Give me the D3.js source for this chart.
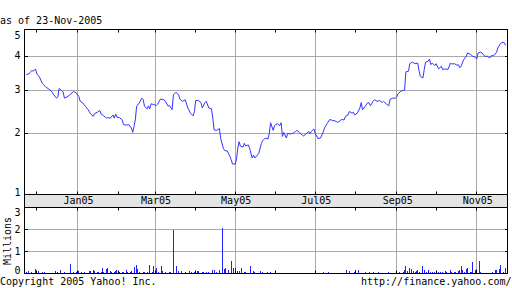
<!DOCTYPE html>
<html>
<head>
<meta charset="utf-8">
<script src="https://cdn.jsdelivr.net/npm/d3@7"></script>
<style>
body{margin:0;background:#fff}
svg text{font-family:"DejaVu Sans Mono",monospace;font-size:10px;fill:#000}
</style>
</head>
<body>
<svg id="chart" width="512" height="288"></svg>
<script>
// closing price
const priceDates = ['2004-11-23','2004-11-25','2004-11-27','2004-11-28','2004-11-30','2004-12-01','2004-12-03','2004-12-05','2004-12-06','2004-12-08',
  '2004-12-10','2004-12-12','2004-12-14','2004-12-16','2004-12-17','2004-12-18','2004-12-19','2004-12-21','2004-12-22','2004-12-24',
  '2004-12-26','2004-12-29','2004-12-31','2005-01-02','2005-01-03','2005-01-05','2005-01-07','2005-01-09','2005-01-11','2005-01-13',
  '2005-01-14','2005-01-16','2005-01-18','2005-01-19','2005-01-21','2005-01-23','2005-01-24','2005-01-26','2005-01-28','2005-01-29',
  '2005-01-30','2005-01-31','2005-02-02','2005-02-04','2005-02-05','2005-02-07','2005-02-09','2005-02-11','2005-02-12','2005-02-13',
  '2005-02-14','2005-02-15','2005-02-17','2005-02-19','2005-02-20','2005-02-21','2005-02-23','2005-02-24','2005-02-25','2005-02-26',
  '2005-02-28','2005-03-02','2005-03-03','2005-03-05','2005-03-07','2005-03-09','2005-03-11','2005-03-12','2005-03-14','2005-03-15',
  '2005-03-17','2005-03-19','2005-03-20','2005-03-22','2005-03-24','2005-03-26','2005-03-28','2005-03-30','2005-03-31','2005-04-01',
  '2005-04-03','2005-04-05','2005-04-06','2005-04-08','2005-04-09','2005-04-11','2005-04-13','2005-04-14','2005-04-15','2005-04-17',
  '2005-04-19','2005-04-20','2005-04-22','2005-04-23','2005-04-25','2005-04-27','2005-04-28','2005-04-29','2005-05-01','2005-05-02',
  '2005-05-03','2005-05-04','2005-05-05','2005-05-07','2005-05-08','2005-05-09','2005-05-11','2005-05-12','2005-05-14','2005-05-15',
  '2005-05-16','2005-05-18','2005-05-19','2005-05-21','2005-05-22','2005-05-24','2005-05-26','2005-05-27','2005-05-28','2005-05-30',
  '2005-05-31','2005-06-02','2005-06-04','2005-06-05','2005-06-06','2005-06-07','2005-06-09','2005-06-10','2005-06-12','2005-06-14',
  '2005-06-16','2005-06-17','2005-06-19','2005-06-21','2005-06-22','2005-06-24','2005-06-26','2005-06-27','2005-06-28','2005-06-30',
  '2005-07-01','2005-07-03','2005-07-05','2005-07-07','2005-07-08','2005-07-10','2005-07-12','2005-07-14','2005-07-16','2005-07-18',
  '2005-07-19','2005-07-21','2005-07-23','2005-07-24','2005-07-26','2005-07-27','2005-07-29','2005-07-30','2005-07-31','2005-08-02',
  '2005-08-04','2005-08-05','2005-08-06','2005-08-08','2005-08-10','2005-08-11','2005-08-12','2005-08-14','2005-08-15','2005-08-17',
  '2005-08-19','2005-08-21','2005-08-22','2005-08-24','2005-08-26','2005-08-27','2005-08-29','2005-08-31','2005-09-01','2005-09-02',
  '2005-09-04','2005-09-06','2005-09-07','2005-09-08','2005-09-10','2005-09-11','2005-09-13','2005-09-15','2005-09-17','2005-09-18',
  '2005-09-19','2005-09-21','2005-09-22','2005-09-23','2005-09-25','2005-09-26','2005-09-27','2005-09-28','2005-09-30','2005-10-01',
  '2005-10-03','2005-10-05','2005-10-06','2005-10-08','2005-10-10','2005-10-12','2005-10-13','2005-10-15','2005-10-17','2005-10-18',
  '2005-10-19','2005-10-20','2005-10-22','2005-10-24','2005-10-25','2005-10-27','2005-10-29','2005-10-31','2005-11-01','2005-11-02',
  '2005-11-04','2005-11-05','2005-11-07','2005-11-09','2005-11-11','2005-11-12','2005-11-14','2005-11-16','2005-11-17','2005-11-19',
  '2005-11-21','2005-11-22','2005-11-23'];
const priceClose = [3.42,3.44,3.54,3.52,3.58,3.44,3.35,3.18,3.14,3.06,
  3.02,2.96,2.86,2.78,2.81,3.03,3.00,2.94,2.78,2.81,
  2.86,2.95,2.91,2.82,2.70,2.66,2.58,2.50,2.40,2.35,
  2.41,2.44,2.48,2.40,2.36,2.31,2.32,2.31,2.38,2.31,
  2.40,2.33,2.32,2.27,2.17,2.16,2.17,2.10,2.01,2.13,
  2.27,2.58,2.66,2.78,2.74,2.58,2.52,2.59,2.52,2.64,
  2.62,2.60,2.63,2.75,2.75,2.70,2.58,2.60,2.50,2.86,
  2.93,2.86,2.75,2.70,2.74,2.54,2.42,2.36,2.46,2.72,
  2.72,2.67,2.54,2.67,2.70,2.54,2.52,2.31,2.06,2.05,
  2.09,1.89,1.71,1.67,1.66,1.57,1.51,1.44,1.44,1.51,
  1.71,1.83,1.75,1.73,1.80,1.75,1.77,1.71,1.54,1.59,
  1.54,1.59,1.62,1.80,1.85,1.90,1.88,1.99,2.21,2.05,
  2.15,2.19,2.15,2.21,1.93,2.01,1.90,1.99,1.98,1.99,
  2.03,2.05,2.01,1.96,1.94,1.98,2.03,1.98,2.03,2.08,
  1.99,1.89,1.90,2.01,2.10,2.19,2.28,2.26,2.25,2.22,
  2.23,2.28,2.27,2.35,2.38,2.46,2.42,2.44,2.38,2.42,
  2.54,2.67,2.50,2.58,2.67,2.66,2.59,2.70,2.74,2.70,
  2.72,2.67,2.70,2.64,2.59,2.75,2.78,2.78,2.81,2.89,
  2.95,2.98,2.98,3.50,3.52,3.75,3.80,3.75,3.77,3.54,
  3.37,3.32,3.57,3.80,3.83,3.90,3.72,3.77,3.69,3.75,
  3.59,3.67,3.57,3.59,3.57,3.77,3.74,3.75,3.70,3.72,
  3.62,3.67,3.88,3.99,4.10,4.06,3.99,3.96,3.90,4.10,
  4.13,4.10,3.99,3.99,3.94,4.01,4.01,4.12,4.27,4.43,
  4.48,4.46,4.36];

// volume in millions
const volDates = ['2004-11-23','2004-11-25','2004-11-27','2004-11-30','2004-12-02','2004-12-05','2004-12-07','2004-12-15','2004-12-17','2004-12-19',
  '2004-12-22','2004-12-27','2004-12-29','2004-12-31','2005-01-02','2005-01-04','2005-01-06','2005-01-10','2005-01-11','2005-01-13',
  '2005-01-14','2005-01-16','2005-01-17','2005-01-19','2005-01-20','2005-01-21','2005-01-23','2005-01-24','2005-01-26','2005-01-27',
  '2005-01-29','2005-01-30','2005-01-31','2005-02-02','2005-02-04','2005-02-05','2005-02-07','2005-02-08','2005-02-10','2005-02-11',
  '2005-02-13','2005-02-15','2005-02-16','2005-02-17','2005-02-20','2005-02-21','2005-02-23','2005-02-25','2005-02-27','2005-02-28',
  '2005-03-02','2005-03-04','2005-03-06','2005-03-07','2005-03-09','2005-03-12','2005-03-13','2005-03-15','2005-03-17','2005-03-19',
  '2005-03-21','2005-03-24','2005-03-27','2005-03-29','2005-03-31','2005-04-02','2005-04-03','2005-04-06','2005-04-07','2005-04-09',
  '2005-04-11','2005-04-14','2005-04-15','2005-04-17','2005-04-19','2005-04-21','2005-04-23','2005-04-24','2005-04-26','2005-04-28',
  '2005-04-30','2005-05-01','2005-05-03','2005-05-04','2005-05-06','2005-05-08','2005-05-09','2005-05-13','2005-05-15','2005-05-16',
  '2005-05-20','2005-05-22','2005-05-26','2005-05-28','2005-06-09','2005-07-07','2005-07-11','2005-07-25','2005-07-27','2005-07-31',
  '2005-08-01','2005-08-03','2005-08-08','2005-08-11','2005-08-14','2005-08-18','2005-08-26','2005-09-03','2005-09-06','2005-09-07',
  '2005-09-08','2005-09-09','2005-09-11','2005-09-12','2005-09-14','2005-09-15','2005-09-16','2005-09-17','2005-09-18','2005-09-21',
  '2005-09-22','2005-09-24','2005-09-25','2005-09-27','2005-09-28','2005-09-30','2005-10-01','2005-10-03','2005-10-04','2005-10-06',
  '2005-10-08','2005-10-09','2005-10-12','2005-10-13','2005-10-15','2005-10-16','2005-10-18','2005-10-19','2005-10-20','2005-10-21',
  '2005-10-23','2005-10-24','2005-10-25','2005-10-27','2005-10-28','2005-10-29','2005-10-31','2005-11-01','2005-11-03','2005-11-04',
  '2005-11-13','2005-11-15','2005-11-16','2005-11-18','2005-11-19','2005-11-21','2005-11-23'];
const volMillions = [0.08,0.10,0.05,0.19,0.10,0.06,0.06,0.10,0.07,0.15,
  0.06,0.42,0.06,0.06,0.10,0.06,0.06,0.10,0.12,0.15,
  0.12,0.07,0.07,0.09,0.24,0.07,0.21,0.24,0.10,0.07,
  0.06,0.10,0.15,0.07,0.06,0.06,0.15,0.06,0.06,0.10,
  0.29,0.38,0.19,0.09,0.05,0.06,0.06,0.38,0.06,0.33,
  0.23,0.06,0.33,0.10,0.06,0.05,0.05,1.95,0.33,0.10,
  0.10,0.06,0.10,0.06,0.07,0.10,0.10,0.06,0.06,0.06,
  0.06,0.18,0.18,0.07,0.15,2.07,0.19,0.27,0.15,0.55,
  0.24,0.24,0.10,0.10,0.24,0.07,0.06,0.33,0.10,0.06,
  0.10,0.06,0.05,0.05,0.03,0.05,0.05,0.15,0.12,0.09,
  0.15,0.18,0.09,0.05,0.05,0.05,0.05,0.05,0.09,0.15,
  0.36,0.12,0.27,0.21,0.12,0.09,0.12,0.15,0.09,0.33,
  0.15,0.09,0.15,0.09,0.05,0.09,0.12,0.06,0.09,0.05,
  0.12,0.05,0.15,0.06,0.05,0.05,0.12,0.15,0.36,0.15,
  0.05,0.21,0.27,0.05,0.06,0.50,0.15,0.21,0.55,0.09,
  0.06,0.15,0.15,0.21,0.39,0.09,0.24];

const priceTicks = [1, 2, 3, 4, 5];
const volTicks = [0, 1, 2, 3];
const monthLabels = ['Jan05', 'Mar05', 'May05', 'Jul05', 'Sep05', 'Nov05'];
const monthLabelDates = ['2005-01-01', '2005-03-01', '2005-05-01', '2005-07-01', '2005-09-01', '2005-11-01'];
const asOfText = 'as of 23-Nov-2005';
const leftFoot = 'Copyright 2005 Yahoo! Inc.';
const rightFoot = 'http://finance.yahoo.com/';

const parse = d3.timeParse('%Y-%m-%d');
const prices = priceDates.map((d, i) => ({date: parse(d), v: priceClose[i]}));
const vols = volDates.map((d, i) => ({date: parse(d), v: volMillions[i]}));
const gridDates = monthLabelDates.map(parse);

// layout
const L = 25, R = 507;
const pTop = 29, pBot = 194, bandBot = 207, vBot = 273;
const grid = '#a8a8a8';

const x = d3.scaleTime()
  .domain([new Date(2004, 10, 22), new Date(2005, 10, 24)])
  .range([L, R]);
const y = d3.scaleSymlog().constant(1)
  .domain([1, 5])
  .range([pBot, 28.5]);
const yv = d3.scaleLinear()
  .domain([0, 3])
  .range([vBot + 0.5, bandBot]);

const cx = v => Math.floor(v) + 0.5;   // crisp vertical
const cy = v => Math.round(v) + 0.5;   // crisp horizontal

const svg = d3.select('#chart');
svg.append('rect').attr('width', 512).attr('height', 288).attr('fill', '#fff');

// gray band with month names
svg.append('rect')
  .attr('x', L - 0.5).attr('y', pBot + 0.5)
  .attr('width', R - L + 1).attr('height', bandBot - pBot)
  .attr('fill', '#e4e4e4');

// horizontal grid
svg.append('g').selectAll('line')
  .data(priceTicks.filter(v => v > 1 && v < 5))
  .join('line')
  .attr('x1', L).attr('x2', R + 1)
  .attr('y1', d => cy(y(d))).attr('y2', d => cy(y(d)))
  .attr('stroke', grid);

svg.append('g').selectAll('line')
  .data(volTicks.filter(v => v > 0 && v < 3))
  .join('line')
  .attr('x1', L).attr('x2', R + 1)
  .attr('y1', d => cy(yv(d))).attr('y2', d => cy(yv(d)))
  .attr('stroke', grid);

// vertical grid at labelled months
[[pTop, pBot], [bandBot, vBot]].forEach(([a, b]) => {
  svg.append('g').selectAll('line')
    .data(gridDates)
    .join('line')
    .attr('x1', d => cx(x(d))).attr('x2', d => cx(x(d)))
    .attr('y1', a).attr('y2', b + 1)
    .attr('stroke', grid);
});

// price line
svg.append('clipPath').attr('id', 'pclip')
  .append('rect').attr('x', L).attr('y', pTop + 1).attr('width', R - L).attr('height', pBot - pTop - 1);

const line = d3.line()
  .x(d => x(d.date))
  .y(d => y(d.v));

svg.append('path')
  .datum(prices)
  .attr('clip-path', 'url(#pclip)')
  .attr('fill', 'none')
  .attr('stroke', '#3434ff')
  .attr('stroke-width', 1)
  .attr('d', line);

// volume bars
svg.append('g').selectAll('rect')
  .data(vols)
  .join('rect')
  .attr('x', d => Math.floor(x(d.date)))
  .attr('y', d => Math.round(yv(d.v)))
  .attr('width', 1)
  .attr('height', d => vBot - Math.round(yv(d.v)))
  .attr('fill', '#2020ff');

// frames
const frame = svg.append('g').attr('fill', 'none').attr('stroke', '#000');
frame.append('rect').attr('x', L - 0.5).attr('y', pTop + 0.5).attr('width', R - L + 1).attr('height', pBot - pTop);
frame.append('rect').attr('x', L - 0.5).attr('y', pBot + 0.5).attr('width', R - L + 1).attr('height', bandBot - pBot);
frame.append('rect').attr('x', L - 0.5).attr('y', bandBot + 0.5).attr('width', R - L + 1).attr('height', vBot - bandBot);

// y ticks on both sides
const tk = 3;
const yTicks = svg.append('g').attr('stroke', '#000');
priceTicks.filter(v => v > 1 && v < 5).forEach(v => {
  const yy = cy(y(v));
  yTicks.append('line').attr('x1', L).attr('x2', L + tk).attr('y1', yy).attr('y2', yy);
  yTicks.append('line').attr('x1', R - tk + 1).attr('x2', R + 1).attr('y1', yy).attr('y2', yy);
});
volTicks.filter(v => v > 0 && v < 3).forEach(v => {
  const yy = cy(yv(v));
  yTicks.append('line').attr('x1', L).attr('x2', L + tk).attr('y1', yy).attr('y2', yy);
  yTicks.append('line').attr('x1', R - tk + 1).attr('x2', R + 1).attr('y1', yy).attr('y2', yy);
});

// month ticks on every border
const months = d3.timeMonth.range(new Date(2004, 11, 1), new Date(2005, 11, 1));
[[pTop + 0.5, 1], [pBot + 0.5, -1], [bandBot + 0.5, 1], [vBot + 0.5, -1]].forEach(([yy, dir]) => {
  svg.append('g').selectAll('line')
    .data(months)
    .join('line')
    .attr('x1', d => cx(x(d))).attr('x2', d => cx(x(d)))
    .attr('y1', yy).attr('y2', yy + dir * tk)
    .attr('stroke', '#000');
});

// month labels in the band
const xAxis = d3.axisBottom(x)
  .tickValues(gridDates)
  .tickFormat((d, i) => monthLabels[i])
  .tickSize(0)
  .tickPadding(3);
svg.append('g')
  .attr('transform', `translate(0.5,${pBot})`)
  .call(xAxis)
  .call(g => g.select('.domain').remove());

// y labels, kept inside their panel
const clamp = (v, a, b) => Math.max(a, Math.min(b, v));
svg.append('g').selectAll('text')
  .data(priceTicks)
  .join('text')
  .attr('x', 20.5)
  .attr('y', d => clamp(y(d), pTop + 6, pBot - 2))
  .attr('dy', '0.35em')
  .attr('text-anchor', 'end')
  .text(d => d);

svg.append('g').selectAll('text')
  .data(volTicks)
  .join('text')
  .attr('x', 20.5)
  .attr('y', d => clamp(yv(d), bandBot + 5.5, vBot - 2.5))
  .attr('dy', '0.35em')
  .attr('text-anchor', 'end')
  .text(d => d);

svg.append('text')
  .attr('transform', 'translate(10.5,241) rotate(-90)')
  .attr('text-anchor', 'middle')
  .text('Millions');

// header and footer
svg.append('text').attr('x', 0).attr('y', 24).text(asOfText);
svg.append('text').attr('x', 0).attr('y', 284.5).text(leftFoot);
svg.append('text').attr('x', 511.5).attr('y', 284.5).attr('text-anchor', 'end').text(rightFoot);
</script>
</body>
</html>
